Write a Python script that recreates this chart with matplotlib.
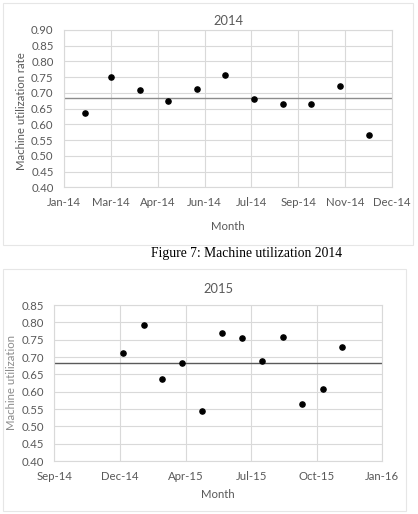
import datetime as dt
import matplotlib
matplotlib.use("Agg")
import matplotlib.pyplot as plt
import matplotlib.dates as mdates
from matplotlib.patches import Rectangle

plt.rcParams['font.family'] = ['Lato', 'DejaVu Sans']

# 2014 data: one point per month, Feb..Dec
months_2014 = [dt.date(2014, m, 1) for m in range(2, 13)]
util_2014 = [0.636, 0.751, 0.709, 0.673, 0.711, 0.758, 0.680, 0.665, 0.664, 0.723, 0.567]

# 2015 data: Jan..Dec
months_2015 = [dt.date(2015, m, 1) for m in range(1, 13)]
util_2015 = [0.712, 0.791, 0.636, 0.684, 0.545, 0.769, 0.754, 0.688, 0.758, 0.565, 0.609, 0.730]

ref_level = 0.684

# axis setup (Excel-style date axis: start date, major unit in days, n steps)
axis_2014 = (dt.date(2014, 1, 10), 50, 7)
axis_2015 = (dt.date(2014, 9, 18), 100, 5)

TXT = '#595959'
GRID = '#d9d9d9'
FS = 8.2

fig = plt.figure(figsize=(4.18, 5.14), dpi=100)
W, H = 418, 514


def px_rect(x0, y0, x1, y1):
    return [x0 / W, 1 - y1 / H, (x1 - x0) / W, (y1 - y0) / H]


# panel borders
for (x0, y0, x1, y1) in [(2.5, 3, 413, 245), (3, 269, 406, 511)]:
    fig.patches.append(Rectangle((x0 / W, 1 - y1 / H), (x1 - x0) / W, (y1 - y0) / H,
                                 transform=fig.transFigure, fill=False,
                                 edgecolor='#e6e6e6', linewidth=0.8))


def draw(ax, dates, vals, axis, yticks, title, ylabel, ylab_color, line_color, title_pad):
    start, step, n = axis
    ticks = [start + dt.timedelta(days=step * i) for i in range(n + 1)]
    ax.scatter(dates, vals, s=14, color='black', zorder=3)
    ax.axhline(ref_level, color=line_color, linewidth=1.0, zorder=2)
    ax.set_xlim(ticks[0], ticks[-1])
    ax.set_xticks(ticks)
    ax.xaxis.set_major_formatter(mdates.DateFormatter('%b-%y'))
    ax.set_ylim(yticks[0], yticks[-1])
    ax.set_yticks(yticks)
    ax.set_yticklabels([f'{v:.2f}' for v in yticks])
    ax.grid(True, color=GRID, linewidth=0.8)
    ax.set_axisbelow(True)
    for s in ax.spines.values():
        s.set_color(GRID)
        s.set_linewidth(0.8)
    ax.tick_params(length=0, labelsize=FS, colors=TXT)
    ax.tick_params(axis='x', pad=7)
    ax.tick_params(axis='y', pad=7.5)
    ax.set_title(title, fontsize=9.3, color=TXT, pad=title_pad)
    ax.set_xlabel('Month', fontsize=FS, color=TXT, va='center')
    ax.set_ylabel(ylabel, fontsize=FS, color=ylab_color, va='center')


ax1 = fig.add_axes(px_rect(64, 30, 392, 187.3))
draw(ax1, months_2014, util_2014, axis_2014,
     [0.40, 0.45, 0.50, 0.55, 0.60, 0.65, 0.70, 0.75, 0.80, 0.85, 0.90],
     '2014', 'Machine utilization rate', TXT, '#8c8c8c', 3.5)
ax1.xaxis.set_label_coords(0.5, -38.7 / 157.3)
ax1.yaxis.set_label_coords(-42 / 328, 0.485)

ax2 = fig.add_axes(px_rect(54.3, 305, 382.3, 461))
draw(ax2, months_2015, util_2015, axis_2015,
     [0.40, 0.45, 0.50, 0.55, 0.60, 0.65, 0.70, 0.75, 0.80, 0.85],
     '2015', 'Machine utilization', '#8c8c8c', '#5a5a5a', 8.3)
ax2.xaxis.set_label_coords(0.5, -33 / 156)
ax2.yaxis.set_label_coords(-42.3 / 328, 0.505)

fig.text(247 / W, 1 - 254 / H, 'Figure 7: Machine utilization 2014',
         family='Liberation Serif', fontsize=9.8, ha='center', va='center', color='black')

fig.savefig('out.png', dpi=100)
